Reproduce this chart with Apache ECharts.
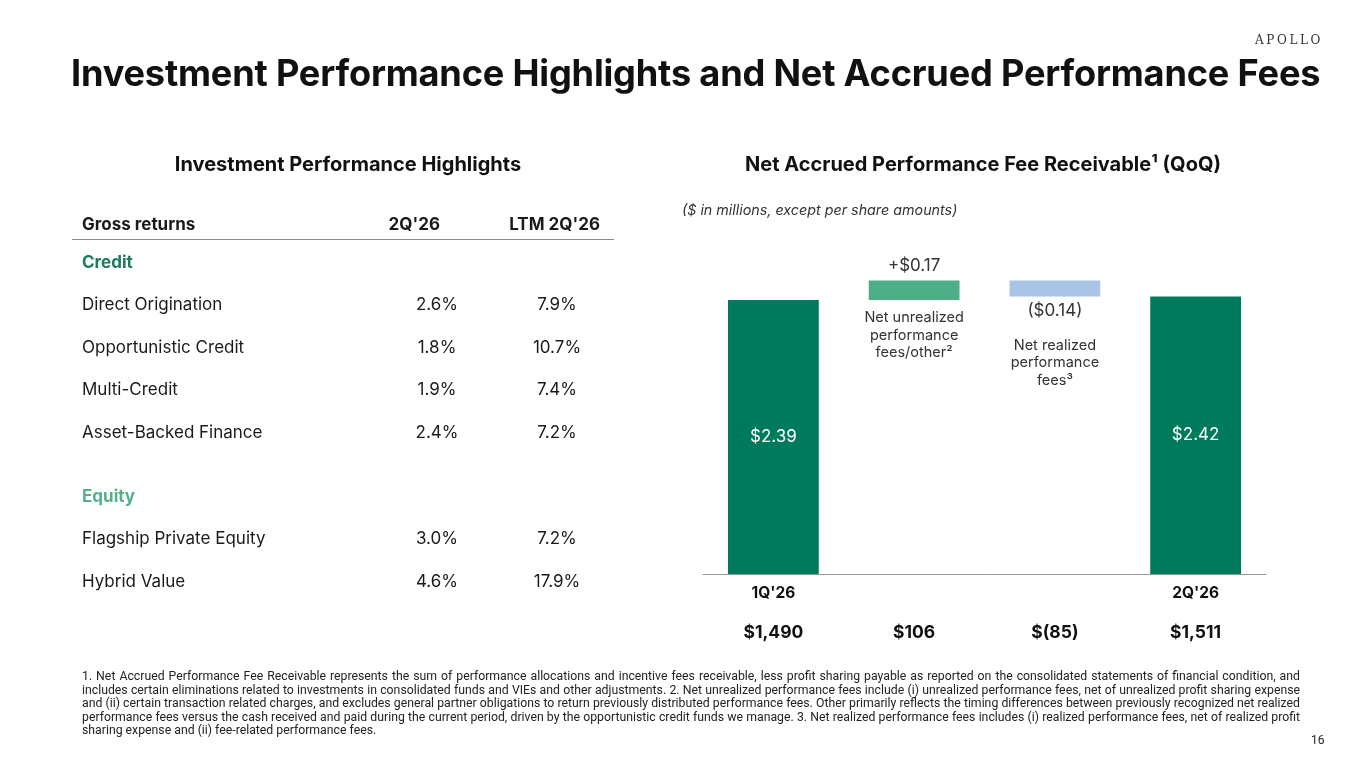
<!DOCTYPE html>
<html>
<head>
<meta charset="utf-8">
<script src="https://cdn.jsdelivr.net/npm/echarts@6/dist/echarts.min.js"></script>
<style>
  html, body { margin: 0; padding: 0; background: #fff; }
  body { width: 1365px; height: 768px; position: relative; overflow: hidden; font-family: Inter, Roboto, sans-serif; color: #1a1a1a; }
  #chart { position: absolute; left: 0; top: 0; width: 1365px; height: 768px; }
  .abs { position: absolute; white-space: nowrap; }
  .logo { left: 1255px; top: 33px; font-family: "DejaVu Serif", "Liberation Serif", serif; font-size: 12px; letter-spacing: 2.6px; color: #333; }
  .title { left: 71px; top: 51px; font-size: 36.2px; font-weight: 700; color: #111; letter-spacing: -0.2px; }
  .sub { top: 152px; font-size: 20px; font-weight: 700; color: #111; transform: translateX(-50%); }
  .note { left: 682px; top: 201px; font-size: 14.3px; font-style: italic; color: #333; }
  .row { position: absolute; left: 82px; width: 530px; height: 22px; font-size: 17px; line-height: 22px; }
  .row .lab { position: absolute; left: 0; }
  .row .c1 { position: absolute; left: 355px; width: 0; text-align: center; }
  .row .c2 { position: absolute; left: 475px; width: 0; text-align: center; }
  .row .c1 span, .row .c2 span { display: inline-block; transform: translateX(-50%); }
  .hdr { font-weight: 700; font-size: 17px; }
  .hdr .r { position: absolute; top: 0; text-align: right; }
  .sec { font-weight: 700; }
  .rule { position: absolute; left: 72px; top: 239px; width: 542px; height: 1px; background: #8c8c8c; }
  .foot { position: absolute; left: 82px; top: 670px; width: 1218px; font-family: Roboto, sans-serif; font-size: 12.27px; line-height: 13.6px; text-align: justify; color: #222; }
  .page { left: 1311px; top: 733px; font-family: Roboto, sans-serif; font-size: 12px; color: #222; }
</style>
</head>
<body>
<div id="chart"></div>
<div class="abs logo">APOLLO</div>
<div class="abs title">Investment Performance Highlights and Net Accrued Performance Fees</div>
<div class="abs sub" style="left:348px">Investment Performance Highlights</div>
<div class="abs sub" style="left:983px">Net Accrued Performance Fee Receivable¹ (QoQ)</div>
<div class="abs note">($ in millions, except per share amounts)</div>
<div class="rule"></div>
<div id="table"></div>
<div class="foot">1. Net Accrued Performance Fee Receivable represents the sum of performance allocations and incentive fees receivable, less profit sharing payable as reported on the consolidated statements of financial condition, and includes certain eliminations related to investments in consolidated funds and VIEs and other adjustments. 2. Net unrealized performance fees include (i) unrealized performance fees, net of unrealized profit sharing expense and (ii) certain transaction related charges, and excludes general partner obligations to return previously distributed performance fees. Other primarily reflects the timing differences between previously recognized net realized performance fees versus the cash received and paid during the current period, driven by the opportunistic credit funds we manage. 3. Net realized performance fees includes (i) realized performance fees, net of realized profit sharing expense and (ii) fee-related performance fees.</div>
<div class="abs page">16</div>
<script>
// table data
const tableHeader = ['Gross returns', "2Q'26", "LTM 2Q'26"];
const creditNames = ['Direct Origination', 'Opportunistic Credit', 'Multi-Credit', 'Asset-Backed Finance'];
const creditQtr = ['2.6%', '1.8%', '1.9%', '2.4%'];
const creditLtm = ['7.9%', '10.7%', '7.4%', '7.2%'];
const equityNames = ['Flagship Private Equity', 'Hybrid Value'];
const equityQtr = ['3.0%', '4.6%'];
const equityLtm = ['7.2%', '17.9%'];

// waterfall data ($ per share) and amounts ($ in millions)
const periods = ["1Q'26", '', '', "2Q'26"];
const amounts = ['$1,490', '$106', '$(85)', '$1,511'];
const startValue = 2.39;
const changes = [0.17, -0.14];
const endValue = 2.42;
const changeNames = ['Net unrealized\nperformance\nfees/other²', 'Net realized\nperformance\nfees³'];

const DARK = '#007a5c', UP = '#4caf87', DOWN = '#a9c4e6';

/* build table */
let html = '';
function addRow(top, cls, a, b, c) {
  html += '<div class="row ' + cls + '" style="top:' + (top - 11) + 'px">' +
    '<div class="lab">' + a + '</div>' +
    '<div class="c1"><span>' + b + '</span></div>' +
    '<div class="c2"><span>' + c + '</span></div></div>';
}
html += '<div class="row hdr" style="top:213px"><div class="lab">' + tableHeader[0] + '</div>' +
  '<div class="r" style="right:172px">' + tableHeader[1] + '</div>' +
  '<div class="r" style="right:12px">' + tableHeader[2] + '</div></div>';
addRow(262, 'sec', '<span style="color:#1b7c5e">Credit</span>', '', '');
for (let i = 0; i < creditNames.length; i++) {
  addRow(304 + i * 42.7, '', creditNames[i], creditQtr[i], creditLtm[i]);
}
addRow(496, 'sec', '<span style="color:#55b08c">Equity</span>', '', '');
for (let i = 0; i < equityNames.length; i++) {
  addRow(538 + i * 42.5, '', equityNames[i], equityQtr[i], equityLtm[i]);
}
document.getElementById('table').innerHTML = html;

/* build waterfall */
let base = [0];
let vals = [startValue];
let running = startValue;
for (let i = 0; i < changes.length; i++) {
  let next = running + changes[i];
  base.push(Math.min(running, next));
  vals.push(Math.abs(changes[i]));
  running = next;
}
base.push(0);
vals.push(endValue);

function fmtChange(v) {
  return v >= 0 ? '+$' + v.toFixed(2) : '($' + Math.abs(v).toFixed(2) + ')';
}

let baseData = base.map(function (b, i) {
  let item = { value: b, itemStyle: { color: 'transparent' }, label: { show: false } };
  if (i > 0 && i <= changes.length) {
    item.label = {
      show: true, position: 'insideTop', distance: changes[i - 1] >= 0 ? 9 : 40,
      formatter: changeNames[i - 1], color: '#333', fontSize: 14.5, lineHeight: 17.5,
      fontFamily: 'Inter', align: 'center'
    };
  }
  return item;
});

let valData = vals.map(function (v, i) {
  if (i === 0 || i === vals.length - 1) {
    return {
      value: v, itemStyle: { color: DARK },
      label: { show: true, position: 'inside', formatter: '$' + v.toFixed(2), color: '#fff', fontSize: 17, fontFamily: 'Inter' }
    };
  }
  let ch = changes[i - 1];
  return {
    value: v, itemStyle: { color: ch >= 0 ? UP : DOWN },
    label: { show: true, position: ch >= 0 ? 'top' : 'bottom', distance: 6, formatter: fmtChange(ch), color: '#333', fontSize: 17, fontFamily: 'Inter' }
  };
});

let myChart = echarts.init(document.getElementById('chart'), null, { renderer: 'canvas' });
let option = {
  animation: false,
  grid: { left: 703, right: 99, top: 230, bottom: 194, containLabel: false },
  xAxis: {
    type: 'category',
    data: periods,
    axisLine: { lineStyle: { color: '#9a9a9a', width: 1 } },
    axisTick: { show: false },
    axisLabel: {
      margin: 8,
      interval: 0,
      formatter: function (val, idx) {
        return '{q|' + (val || ' ') + '}\n{m|' + amounts[idx] + '}';
      },
      rich: {
        q: { fontSize: 15.5, fontWeight: 'bold', color: '#111', lineHeight: 22, fontFamily: 'Inter' },
        m: { fontSize: 17.5, fontWeight: 'bold', color: '#111', lineHeight: 58, fontFamily: 'Inter' }
      }
    }
  },
  yAxis: { type: 'value', min: 0, max: 3, show: false, splitLine: { show: false } },
  series: [
    { type: 'bar', stack: 'wf', data: baseData, barWidth: '64.5%', silent: true },
    { type: 'bar', stack: 'wf', data: valData, barWidth: '64.5%' }
  ]
};
myChart.setOption(option, true);
</script>
</body>
</html>
